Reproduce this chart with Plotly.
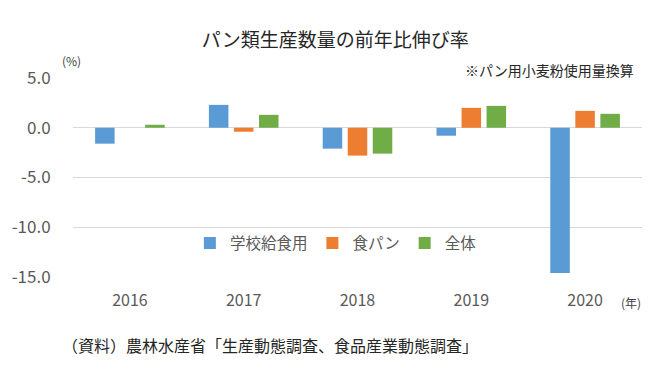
import plotly.graph_objects as go

years = ["2016", "2017", "2018", "2019", "2020"]
school = [-1.6, 2.3, -2.1, -0.8, -14.6]
bread = [0.0, -0.4, -2.8, 2.0, 1.7]
total = [0.3, 1.3, -2.6, 2.2, 1.4]
series_names = ["学校給食用", "食パン", "全体"]
ytick_vals = [5, 0, -5, -10, -15]
ytick_text = ["5.0", "0.0", "-5.0", "-10.0", "-15.0"]

colors = ["#5B9BD5", "#ED7D31", "#70AD47"]
FONT = "Noto Sans CJK JP"

fig = go.Figure()
for name, vals, c in zip(series_names, [school, bread, total], colors):
    fig.add_trace(go.Bar(x=years, y=vals, name=name, marker=dict(color=c, line=dict(width=0))))

# page body has an 8px default margin, so the figure is sized to fit inside it
fig.update_layout(
    width=639, height=367,
    margin=dict(l=65, r=5, t=70, b=98),
    paper_bgcolor="white", plot_bgcolor="white",
    font=dict(family=FONT, color="#595959"),
    barmode="group", bargap=0.34, bargroupgap=0.22,
    title=dict(text="パン類生産数量の前年比伸び率", x=0.512, xanchor="center", y=0.913, yanchor="middle",
               font=dict(size=19, color="#262626", family=FONT)),
    legend=dict(orientation="h", x=0.462, xanchor="center", y=0.169, yanchor="middle",
                font=dict(size=15.5, color="#595959"), bgcolor="rgba(0,0,0,0)",
                itemwidth=30, traceorder="normal"),
    showlegend=True,
)
fig.update_yaxes(range=[-15, 5], tickvals=ytick_vals, ticktext=ytick_text,
                 showgrid=True, gridcolor="#D9D9D9", gridwidth=1,
                 zeroline=True, zerolinecolor="#D9D9D9", zerolinewidth=1,
                 showline=False, ticks="outside", ticklen=18, tickcolor="rgba(0,0,0,0)",
                 tickfont=dict(size=17, color="#595959"))
fig.update_xaxes(showgrid=False, showline=False, ticks="outside", ticklen=9,
                 tickcolor="rgba(0,0,0,0)", tickfont=dict(size=16, color="#595959"))

fig.add_annotation(text="(%)", xref="paper", yref="paper", x=-0.003, y=1.086, xanchor="center", yanchor="middle",
                   showarrow=False, font=dict(size=12, color="#404040"))
fig.add_annotation(text="※パン用小麦粉使用量換算", xref="paper", yref="paper", x=0.99, y=1.040, xanchor="right",
                   yanchor="middle", showarrow=False, font=dict(size=14, color="#262626"))
fig.add_annotation(text="(年)", xref="paper", yref="paper", x=1.002, y=-0.128, xanchor="right", yanchor="middle",
                   showarrow=False, font=dict(size=12, color="#404040"))
fig.add_annotation(text="（資料）農林水産省「生産動態調査、食品産業動態調査」", xref="paper", yref="paper",
                   x=-0.023, y=-0.344, xanchor="left", yanchor="middle", showarrow=False,
                   font=dict(size=16, color="#262626"))

fig.write_html("out.html")
